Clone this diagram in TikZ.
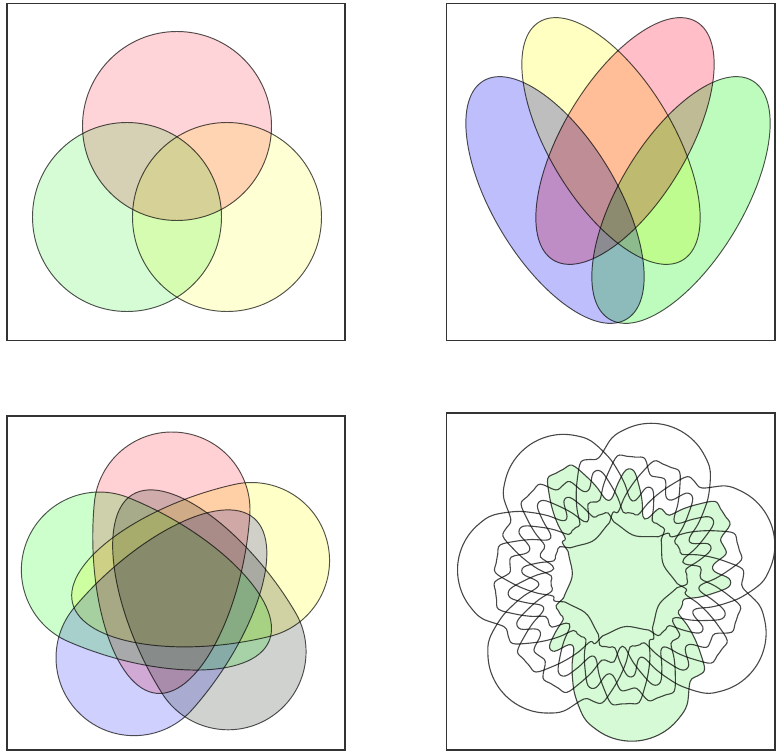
\documentclass[tikz,border=0pt]{standalone}
\definecolor{p1red}{RGB}{255,212,216}
\definecolor{p1green}{RGB}{214,252,214}
\definecolor{p1yellow}{RGB}{255,255,212}
\definecolor{p2blue}{RGB}{190,190,252}
\definecolor{p2yellow}{RGB}{255,255,194}
\definecolor{p2red}{RGB}{255,190,200}
\definecolor{p2green}{RGB}{190,252,190}
\definecolor{p3red}{RGB}{255,208,212}
\definecolor{p3yellow}{RGB}{255,255,200}
\definecolor{p3gray}{RGB}{208,210,208}
\definecolor{p3blue}{RGB}{208,208,255}
\definecolor{p3green}{RGB}{205,255,205}
\definecolor{p4green}{RGB}{214,250,214}
\newcommand\veggpath{(-78,0) arc[start angle=180,end angle=360,radius=78] .. controls (79,92) and (43,184) .. (0,184) .. controls (-43,184) and (-79,92) .. (-78,0) -- cycle}
% radii of one 7-set curve at 84 equal angle steps (the last 12, its outer lobe, are given apart)
\def\Rvals{124,110,96,82,82,96,96,82,68,68,68,68,58.3,55,52.1,49.7,48,47.1,47.1,48,49.7,52.1,55,58.3,68,68,82,96,110,124,124,124,124,110,96,82,82,96,110,110,96,82,68,68,82,82,82,96,110,124,124,124,124,110,110,110,96,96,110,110,96,82,68,68,68,68,82,96,110,124,124,124}
\def\Lobe{-21.49/141.9,-16.37/150.5,-11.03/156.9,-5.55/160.7,0/162,5.55/160.7,11.03/156.9,16.37/150.5,21.49/141.9}
% build the point list of one curve, rotated by #1 degrees, into \vpts
\newcommand\vbuildcurve[1]{%
  \gdef\vpts{}%
  \foreach \rr [count=\nn from 0] in \Rvals {%
    \pgfmathsetmacro\vang{\nn*4.2857143+110.66+#1}%
    \xdef\vpts{\vpts (\vang:\rr)}%
  }%
  \foreach \aa/\rr in \Lobe {%
    \pgfmathsetmacro\vang{\aa+332.142857+110.66+#1}%
    \xdef\vpts{\vpts (\vang:\rr)}%
  }%
}
\begin{document}
\begin{tikzpicture}[x=1pt,y=-1pt,
  frame/.style={draw=black!80, line width=1.3pt},
  vline/.style={draw=black, draw opacity=0.68, line width=0.95pt},
  kline/.style={draw=black, draw opacity=0.72, line width=1.1pt}]
\useasboundingbox (0,0) rectangle (776,754);
\fill[white] (0,0) rectangle (776,754);

% ---------- panel 1: three circles ----------
\begin{scope}[blend mode=multiply]
  \fill[p1red] (177,126) circle[radius=94.5];
  \fill[p1green] (127,217) circle[radius=94.5];
  \fill[p1yellow] (227,217) circle[radius=94.5];
\end{scope}
\draw[vline] (177,126) circle[radius=94.5];
\draw[vline] (127,217) circle[radius=94.5];
\draw[vline] (227,217) circle[radius=94.5];
\draw[frame] (7,3.3) rectangle (345,340.7);

% ---------- panel 2: four ellipses ----------
\begin{scope}[blend mode=multiply]
  \fill[p2blue, shift={(555,200)}, rotate=-59] (0,0) ellipse[x radius=139, y radius=62];
  \fill[p2yellow, shift={(611,141)}, rotate=-59] (0,0) ellipse[x radius=139, y radius=62];
  \fill[p2red, shift={(625,141)}, rotate=59] (0,0) ellipse[x radius=139, y radius=62];
  \fill[p2green, shift={(681,200)}, rotate=59] (0,0) ellipse[x radius=139, y radius=62];
\end{scope}
\draw[vline, shift={(555,200)}, rotate=-59] (0,0) ellipse[x radius=139, y radius=62];
\draw[vline, shift={(611,141)}, rotate=-59] (0,0) ellipse[x radius=139, y radius=62];
\draw[vline, shift={(625,141)}, rotate=59] (0,0) ellipse[x radius=139, y radius=62];
\draw[vline, shift={(681,200)}, rotate=59] (0,0) ellipse[x radius=139, y radius=62];
\draw[frame] (446.7,3.3) rectangle (775,340.7);

% ---------- panel 3: five egg shapes ----------
\begin{scope}[blend mode=multiply]
  \foreach \k/\col in {0/p3red,1/p3yellow,2/p3gray,3/p3blue,4/p3green}{
    \fill[\col, shift={(177,590)}, rotate=-72*\k, shift={(-5,-80)}, rotate=-4.7] \veggpath;
  }
\end{scope}
\foreach \k in {0,...,4}{
  \draw[vline, shift={(177,590)}, rotate=-72*\k, shift={(-5,-80)}, rotate=-4.7] \veggpath;
}
\draw[frame] (7,416) rectangle (345,750);

% ---------- panel 4: symmetric 7-set diagram ----------
\vbuildcurve{0}
\edef\vcmd{\noexpand\fill[p4green, shift={(619,580)}] plot[smooth cycle, tension=0.6] coordinates {\vpts};}
\vcmd
\foreach \c in {0,...,6}{
  \pgfmathsetmacro\voff{\c*360/7}
  \vbuildcurve{\voff}
  \edef\vcmd{\noexpand\draw[kline, shift={(619,580)}] plot[smooth cycle, tension=0.6] coordinates {\vpts};}
  \vcmd
}
\draw[frame] (446.7,413) rectangle (775,750);
\end{tikzpicture}
\end{document}
